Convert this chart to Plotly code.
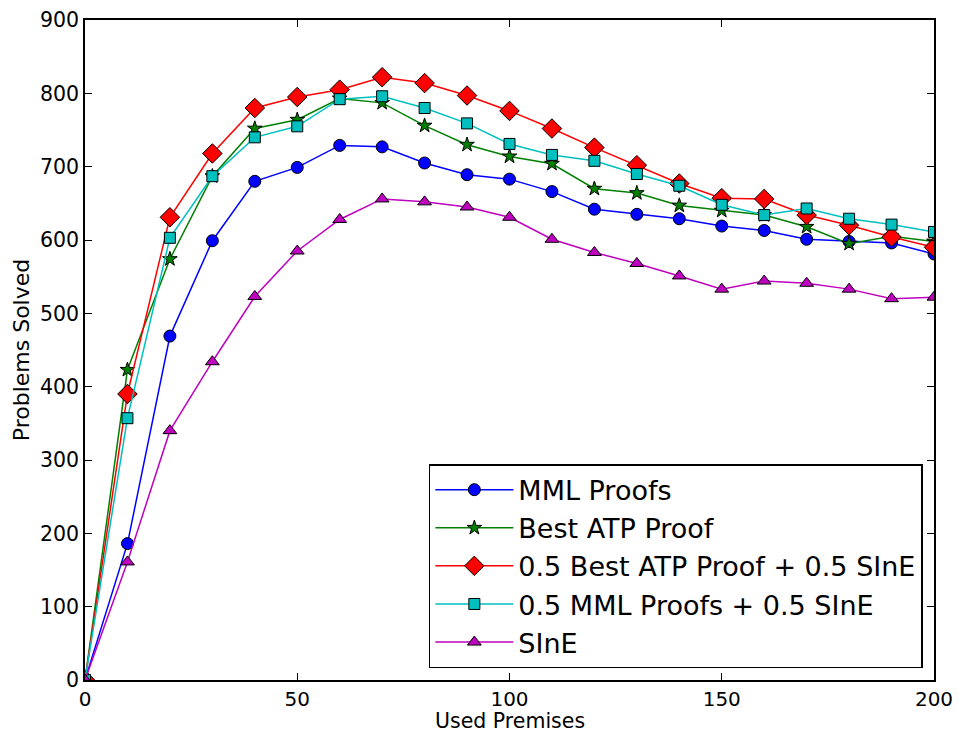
import plotly.graph_objects as go

x = [0, 10, 20, 30, 40, 50, 60, 70, 80, 90, 100, 110, 120, 130, 140, 150, 160, 170, 180, 190, 200]

mml = [0, 186, 469, 599, 680, 699, 729, 727, 705, 689, 683, 666, 642, 635, 629, 619, 613, 601, 598, 596, 581]
best_atp = [0, 423, 574, 687, 752, 764, 793, 787, 756, 730, 714, 704, 670, 664, 647, 640, 634, 618, 595, 605, 598]
best_sine = [0, 390, 631, 718, 780, 795, 805, 822, 814, 797, 776, 752, 726, 702, 677, 657, 656, 634, 620, 604, 590]
mml_sine = [0, 357, 603, 687, 740, 755, 792, 796, 780, 759, 731, 716, 708, 690, 674, 648, 634, 643, 629, 621, 611]
sine = [0, 161, 340, 434, 523, 585, 628, 656, 652, 645, 631, 601, 583, 568, 551, 533, 544, 541, 533, 520, 522]

series = [
    ("MML Proofs", mml, "#0000ff", "circle", 12),
    ("Best ATP Proof", best_atp, "#008000", "star", 11),
    ("0.5 Best ATP Proof + 0.5 SInE", best_sine, "#ff0000", "diamond", 15),
    ("0.5 MML Proofs + 0.5 SInE", mml_sine, "#00bfbf", "square", 11),
    ("SInE", sine, "#bf00bf", "triangle-up", 12),
]

fig = go.Figure()
for i, (name, ys, col, sym, sz) in enumerate(series):
    fig.add_trace(go.Scatter(
        x=x, y=ys, name=name, mode="lines+markers",
        line=dict(color=col, width=1.5),
        marker=dict(symbol=sym, size=sz, color=col, line=dict(color="black", width=1)),
    ))

axis_common = dict(
    showgrid=False, zeroline=False, showline=True, linecolor="black", linewidth=1.5,
    mirror="ticks", ticks="inside", ticklen=7, tickcolor="black", tickwidth=1,
    automargin=False,
)

fig.update_layout(
    width=958, height=733,
    margin=dict(l=85, r=24, t=20, b=53),
    paper_bgcolor="white", plot_bgcolor="white",
    font=dict(family="DejaVu Sans", color="black"),
    xaxis=dict(range=[0, 200], tickvals=[0, 50, 100, 150, 200],
               tickfont=dict(family="DejaVu Sans", size=20, color="black"), **axis_common),
    yaxis=dict(range=[0, 900], tickvals=list(range(0, 901, 100)),
               tickfont=dict(family="DejaVu Sans", size=20.5, color="black"),
               title=dict(text="Problems Solved", font=dict(size=22), standoff=4), **axis_common),
    legend=dict(
        x=0.405, y=0.018, xanchor="left", yanchor="bottom",
        bordercolor="black", borderwidth=1.5, bgcolor="white",
        font=dict(family="DejaVu Sans", size=27),
        traceorder="normal", itemwidth=78,
    ),
    annotations=[dict(
        text="Used Premises", x=0.5, y=0, xref="paper", yref="paper",
        xanchor="center", yanchor="top", yshift=-28, showarrow=False,
        borderpad=0, font=dict(family="DejaVu Sans", size=20.5, color="black"),
    )],
)

fig.write_html("out.html")
